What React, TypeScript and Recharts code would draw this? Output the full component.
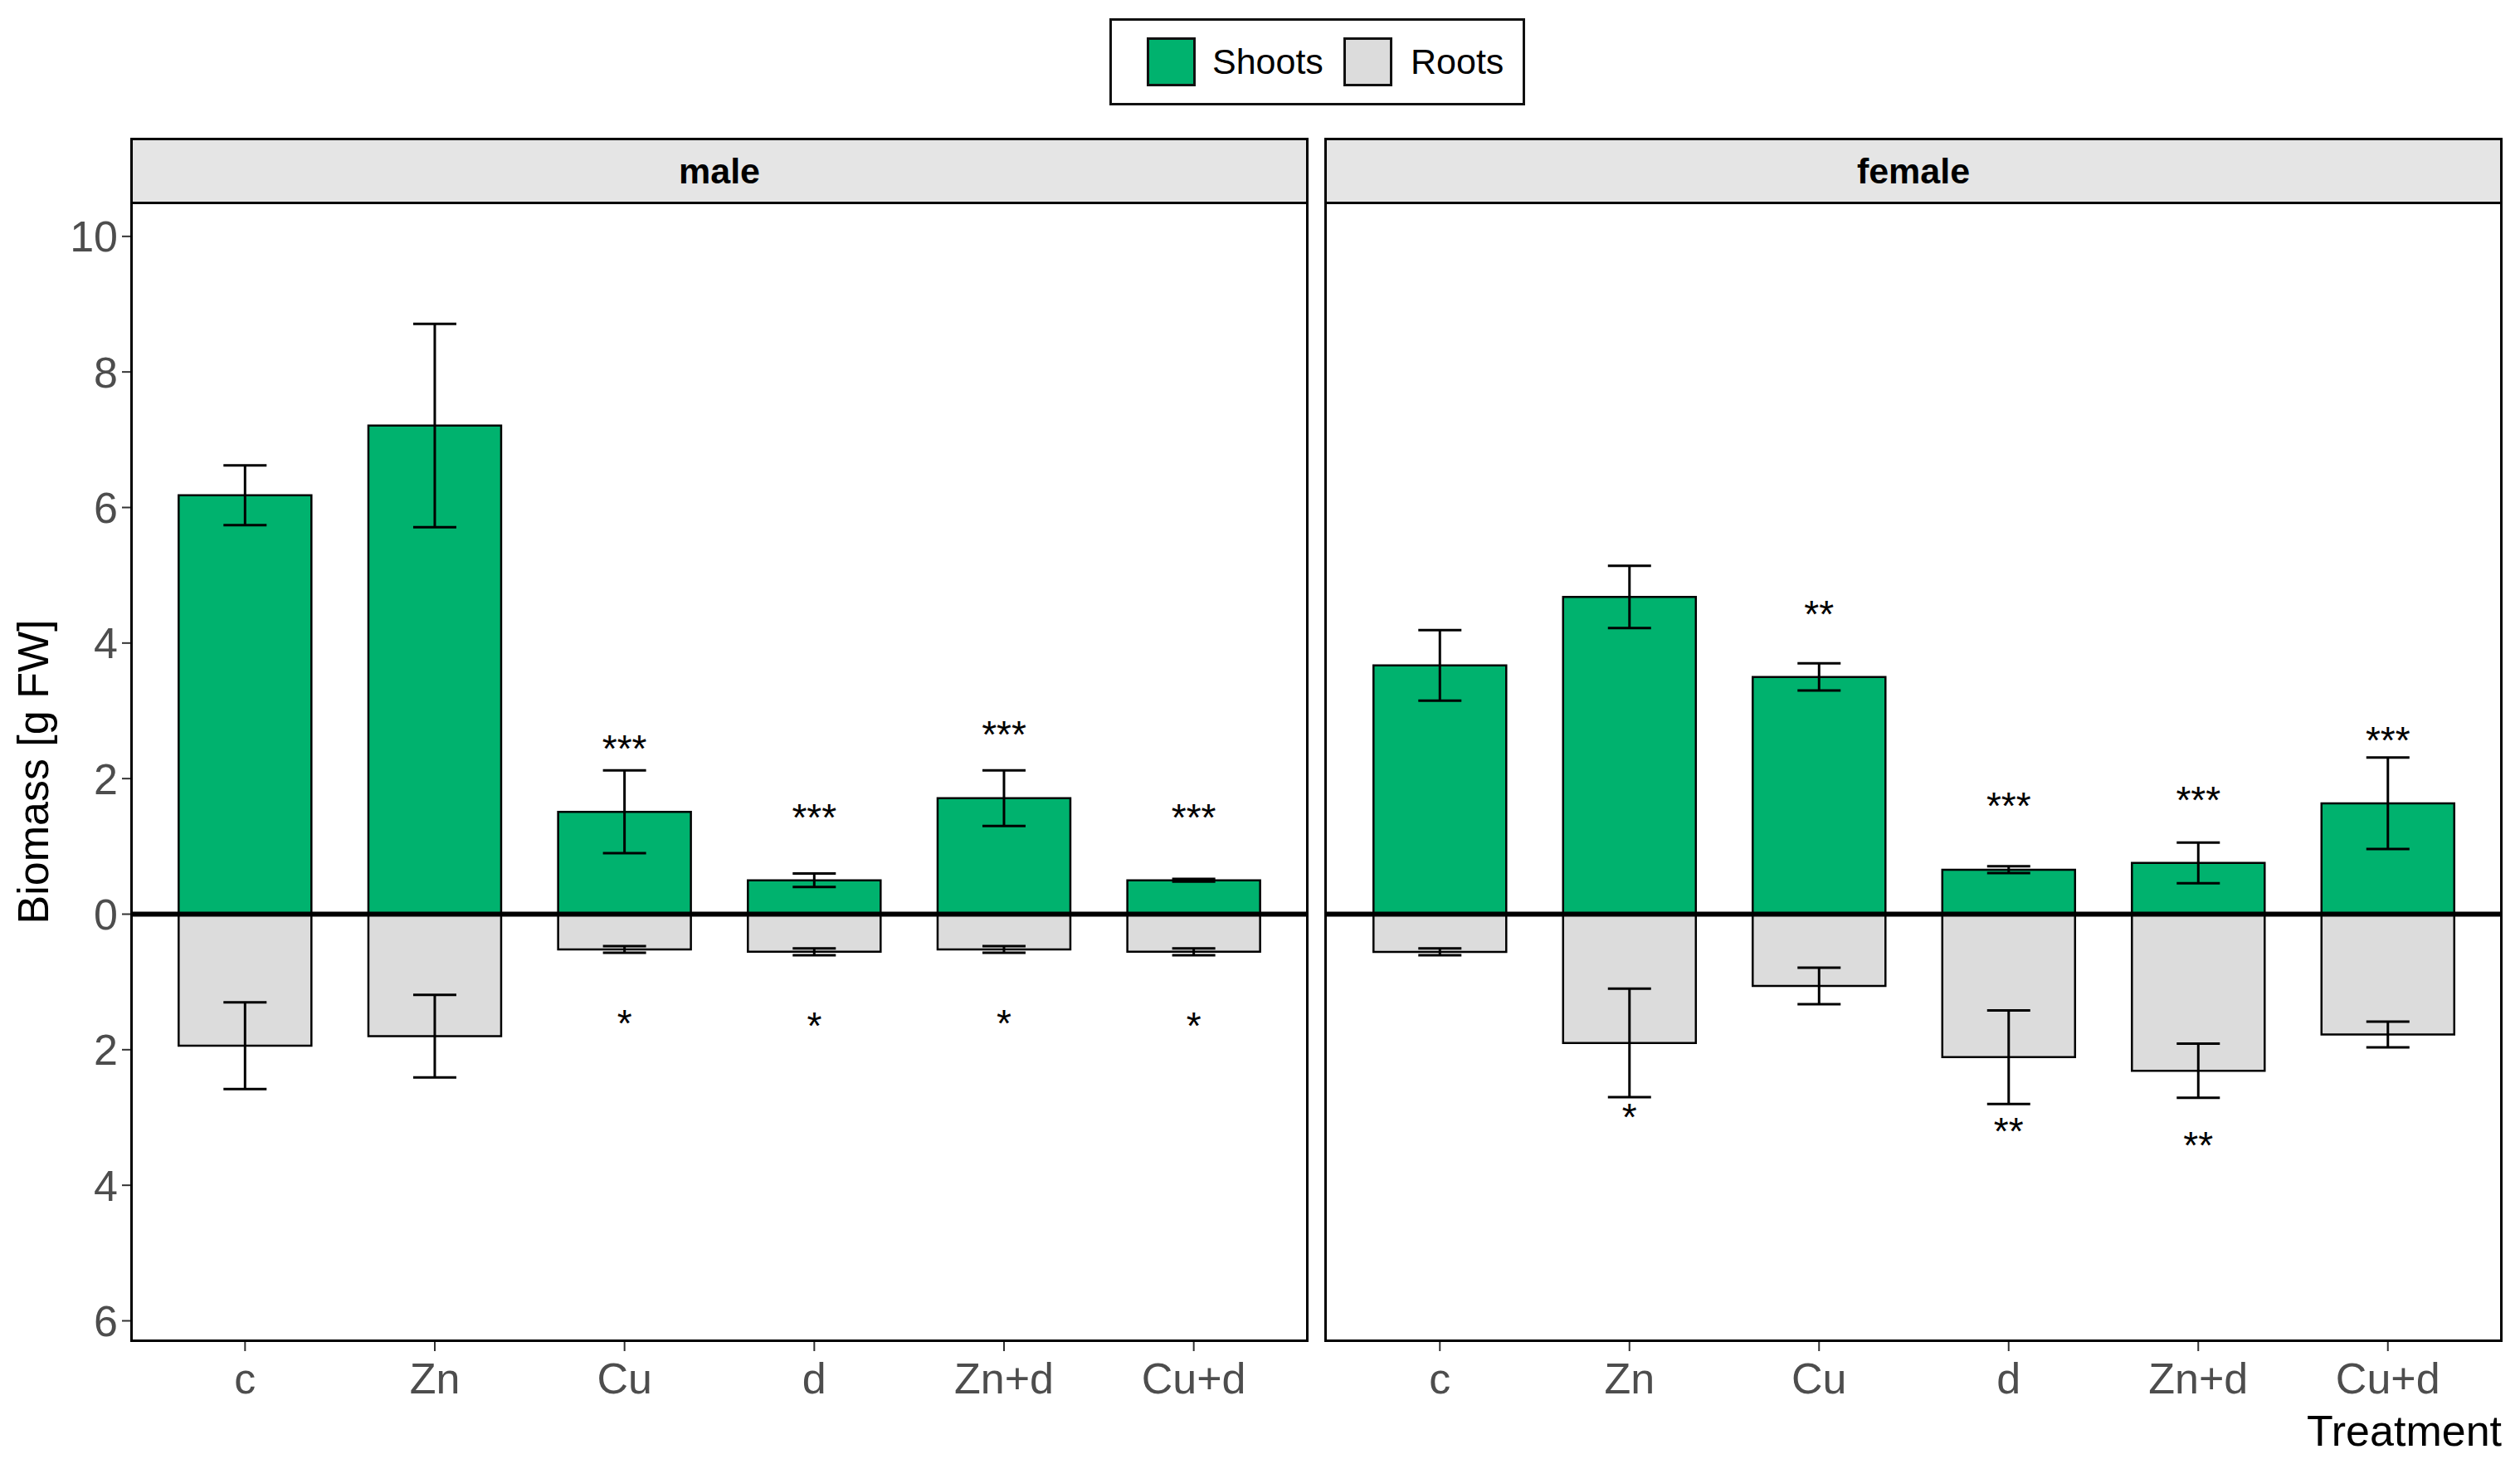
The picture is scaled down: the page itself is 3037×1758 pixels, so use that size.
import React from 'react';
import { ComposedChart, Bar, Line, XAxis, YAxis, ErrorBar, ReferenceLine, LabelList } from 'recharts';

const FONT = '"Liberation Sans", Arial, sans-serif';

const treatments = ['c', 'Zn', 'Cu', 'd', 'Zn+d', 'Cu+d'];

const maleShoots = [6.18, 7.21, 1.51, 0.5, 1.71, 0.5];
const maleShootsSE = [0.44, 1.5, 0.61, 0.1, 0.41, 0.02];
const maleRoots = [1.94, 1.8, 0.52, 0.555, 0.52, 0.555];
const maleRootsSE = [0.64, 0.61, 0.05, 0.05, 0.05, 0.05];

const femaleShoots = [3.67, 4.68, 3.5, 0.656, 0.755, 1.635];
const femaleShootsSE = [0.52, 0.46, 0.2, 0.05, 0.3, 0.675];
const femaleRoots = [0.556, 1.9, 1.06, 2.11, 2.31, 1.775];
const femaleRootsSE = [0.05, 0.8, 0.27, 0.69, 0.4, 0.19];

// significance annotations (value position and text)
const maleShootSigY = [null, null, 2.57, 1.55, 2.78, 1.55];
const maleShootSigText = ['', '', '***', '***', '***', '***'];
const maleRootSigY = [null, null, -1.49, -1.52, -1.49, -1.52];
const maleRootSigText = ['', '', '*', '*', '*', '*'];

const femaleShootSigY = [null, null, 4.55, 1.72, 1.81, 2.69];
const femaleShootSigText = ['', '', '**', '***', '***', '***'];
const femaleRootSigY = [null, -2.87, null, -3.08, -3.29, null];
const femaleRootSigText = ['', '*', '', '**', '**', ''];

const yTicks = [-6, -4, -2, 0, 2, 4, 6, 8, 10];
const yDomain = [-6.3, 10.5];

const SHOOT_COLOR = '#00B26E';
const ROOT_COLOR = '#DCDCDC';
const SIG_FS = 46;

function buildRows(shoots, shootsSE, roots, rootsSE, shootSig, rootSig) {
  return treatments.map((t, i) => ({
    treatment: t,
    shoots: shoots[i],
    shootsErr: shootsSE[i],
    roots: -roots[i],
    rootsErr: rootsSE[i],
    shootSig: shootSig[i],
    rootSig: rootSig[i],
  }));
}

const maleData = buildRows(maleShoots, maleShootsSE, maleRoots, maleRootsSE, maleShootSigY, maleRootSigY);
const femaleData = buildRows(femaleShoots, femaleShootsSE, femaleRoots, femaleRootsSE, femaleShootSigY, femaleRootSigY);

const makeSigLabel = (texts) => (props) => {
  const { index, value } = props;
  if (value == null || !texts[index]) return null;
  const x = props.x != null ? props.x : props.viewBox ? props.viewBox.x : 0;
  const y = props.y != null ? props.y : props.viewBox ? props.viewBox.y : 0;
  return (
    <text x={x} y={y + 0.57 * SIG_FS} textAnchor="middle" fontSize={SIG_FS} fontFamily={FONT} fill="#000">
      {texts[index]}
    </text>
  );
};

const tickStyle = { fill: '#4D4D4D', fontSize: 52, fontFamily: FONT };

function Panel({ data, shootTexts, rootTexts, showY, left, width, margin }) {
  return (
    <div style={{ position: 'absolute', left, top: 0 }}>
      <ComposedChart
        width={width}
        height={1758}
        data={data}
        margin={margin}
        barCategoryGap="15%"
        barGap={0}
      >
        <XAxis
          xAxisId="a"
          dataKey="treatment"
          padding={{ left: 23, right: 23 }}
          height={100}
          tickSize={12}
          tickMargin={14}
          tick={tickStyle}
          tickLine={{ stroke: '#333333', strokeWidth: 2 }}
          axisLine={false}
          interval={0}
        />
        <XAxis xAxisId="b" dataKey="treatment" padding={{ left: 23, right: 23 }} hide />
        <YAxis
          type="number"
          domain={yDomain}
          ticks={yTicks}
          allowDataOverflow
          hide={!showY}
          width={158}
          tickSize={11}
          tickMargin={5}
          interval={0}
          tick={tickStyle}
          tickLine={{ stroke: '#333333', strokeWidth: 2 }}
          axisLine={false}
          tickFormatter={(v) => String(Math.abs(v))}
        />
        <Bar xAxisId="a" dataKey="shoots" fill={SHOOT_COLOR} stroke="#000" strokeWidth={2.5} isAnimationActive={false}>
          <ErrorBar dataKey="shootsErr" width={26} stroke="#000" strokeWidth={3} isAnimationActive={false} />
        </Bar>
        <Bar xAxisId="b" dataKey="roots" fill={ROOT_COLOR} stroke="#000" strokeWidth={2.5} isAnimationActive={false}>
          <ErrorBar dataKey="rootsErr" width={26} stroke="#000" strokeWidth={3} isAnimationActive={false} />
        </Bar>
        <ReferenceLine xAxisId="a" y={0} stroke="#000" strokeWidth={6} />
        <Line
          xAxisId="a"
          dataKey="shootSig"
          stroke="none"
          dot={false}
          activeDot={false}
          legendType="none"
          isAnimationActive={false}
        >
          <LabelList dataKey="shootSig" content={makeSigLabel(shootTexts)} />
        </Line>
        <Line
          xAxisId="a"
          dataKey="rootSig"
          stroke="none"
          dot={false}
          activeDot={false}
          legendType="none"
          isAnimationActive={false}
        >
          <LabelList dataKey="rootSig" content={makeSigLabel(rootTexts)} />
        </Line>
      </ComposedChart>
    </div>
  );
}

const stripStyle = (left) => ({
  position: 'absolute',
  left,
  top: 166,
  width: 1420,
  height: 80,
  boxSizing: 'border-box',
  border: '3px solid #000',
  background: '#E5E5E5',
  display: 'flex',
  alignItems: 'center',
  justifyContent: 'center',
  fontFamily: FONT,
  fontWeight: 'bold',
  fontSize: 43,
  color: '#000',
});

const borderStyle = (left) => ({
  position: 'absolute',
  left,
  top: 243,
  width: 1420,
  height: 1374,
  boxSizing: 'border-box',
  border: '3px solid #000',
  pointerEvents: 'none',
});

const keyStyle = (left, color) => ({
  position: 'absolute',
  left,
  top: 45,
  width: 59,
  height: 59,
  boxSizing: 'border-box',
  border: '3px solid #111',
  background: color,
});

const legendText = (left) => ({
  position: 'absolute',
  left,
  top: 45,
  height: 59,
  display: 'flex',
  alignItems: 'center',
  fontFamily: FONT,
  fontSize: 43,
  color: '#000',
  whiteSpace: 'nowrap',
});

export default function App() {
  return (
    <div style={{ position: 'absolute', left: 0, top: 0, width: 3037, height: 1758, background: '#fff', overflow: 'hidden' }}>
      <Panel
        data={maleData}
        shootTexts={maleShootSigText}
        rootTexts={maleRootSigText}
        showY={true}
        left={0}
        width={1600}
        margin={{ top: 244, right: 24, bottom: 42, left: 0 }}
      />
      <Panel
        data={femaleData}
        shootTexts={femaleShootSigText}
        rootTexts={femaleRootSigText}
        showY={false}
        left={1580}
        width={1457}
        margin={{ top: 244, right: 22, bottom: 42, left: 18 }}
      />
      <div style={stripStyle(157)}>male</div>
      <div style={stripStyle(1596)}>female</div>
      <div style={borderStyle(157)} />
      <div style={borderStyle(1596)} />

      <div
        style={{
          position: 'absolute',
          left: 1337,
          top: 22,
          width: 501,
          height: 105,
          boxSizing: 'border-box',
          border: '3px solid #111',
        }}
      />
      <div style={keyStyle(1382, SHOOT_COLOR)} />
      <div style={legendText(1461)}>Shoots</div>
      <div style={keyStyle(1619, ROOT_COLOR)} />
      <div style={legendText(1700)}>Roots</div>

      <svg width={3037} height={1758} style={{ position: 'absolute', left: 0, top: 0, pointerEvents: 'none' }}>
        <text
          transform="translate(58, 930) rotate(-90)"
          textAnchor="middle"
          fontFamily={FONT}
          fontSize={52}
          fill="#000"
        >
          Biomass [g FW]
        </text>
        <text x={3015} y={1742} textAnchor="end" fontFamily={FONT} fontSize={52} fill="#000">
          Treatment
        </text>
      </svg>
    </div>
  );
}
